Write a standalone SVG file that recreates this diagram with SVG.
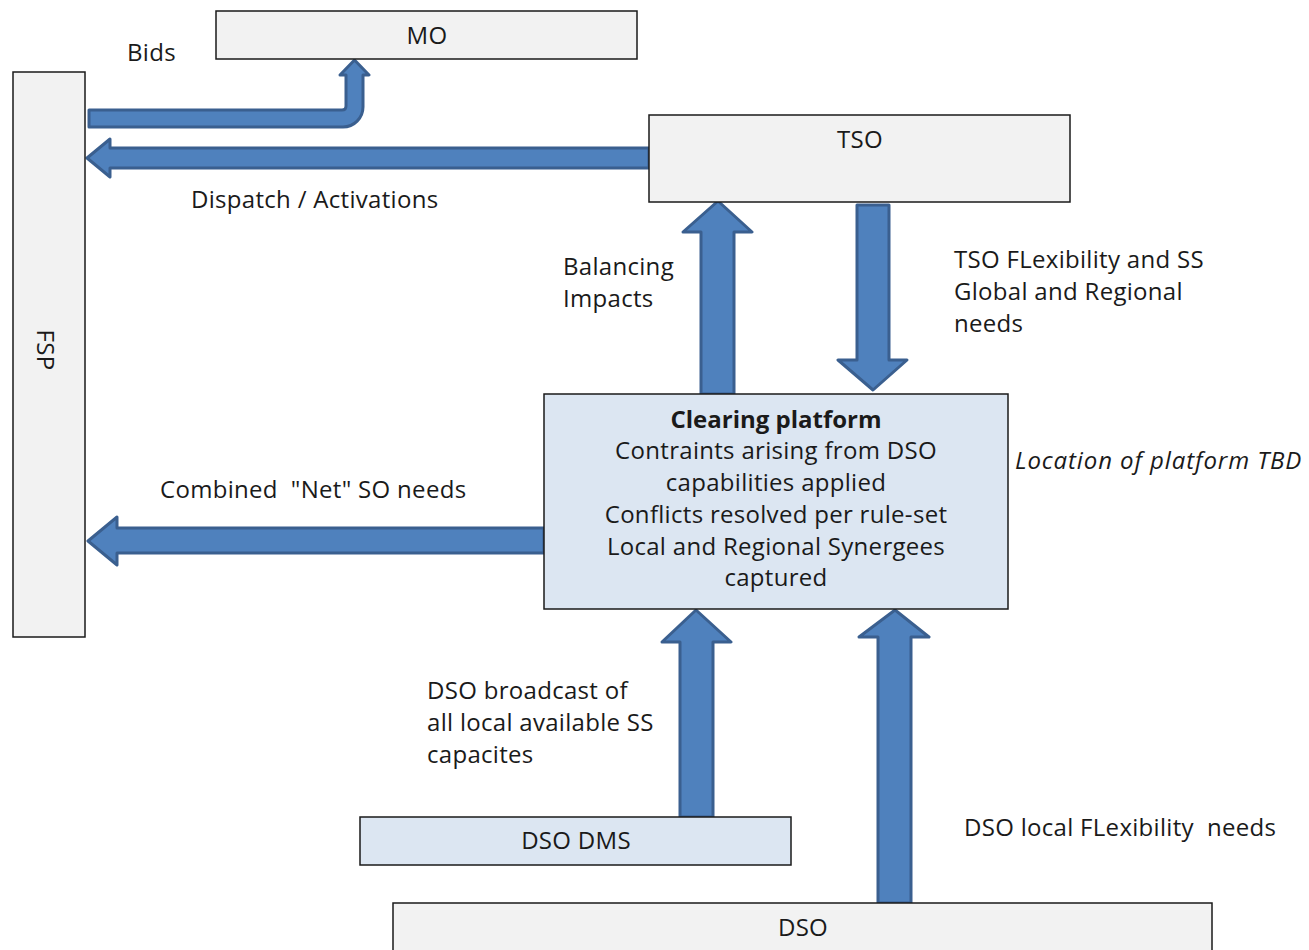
<svg xmlns="http://www.w3.org/2000/svg" width="1309" height="950" viewBox="0 0 1309 950">
  <style>
    text { font-family: "Open Sans", "Liberation Sans", sans-serif; font-size: 24px; letter-spacing: 0.3px; fill: #1a1a1a; }
    .c { text-anchor: middle; }
    .b { font-weight: bold; letter-spacing: 0; }
    .i { font-style: italic; letter-spacing: 0.9px; }
    .box { fill: #f2f2f2; stroke: #1a1a1a; stroke-width: 1.5; }
    .lbox { fill: #dce6f2; stroke: #1a1a1a; stroke-width: 1.5; }
    .arrow { fill: #4f81bd; stroke: #3a5f8f; stroke-width: 3; stroke-linejoin: round; }
  </style>
  <rect width="1309" height="950" fill="#ffffff"/>

  <!-- block arrows -->
  <g id="connectors">
    <path class="arrow" d="M89,110 H342 Q346,110 346,106 V75 H340 L354.5,60 L369,75 H363 V107 A20,20 0 0 1 343,127 H89 Z"/>
    <path class="arrow" d="M649,148 H110 V139 L87,158 L110,177 V168 H649 Z"/>
    <path class="arrow" d="M544,528 H117 V517 L88,541 L117,565 V553 H544 Z"/>
    <path class="arrow" d="M701,394 V232 H683 L718,201 L752,232 H734 V394 Z"/>
    <path class="arrow" d="M857,205 H889 V360 H907 L873,390 L838,360 H857 Z"/>
    <path class="arrow" d="M680,817 V642 H662 L696,610 L731,642 H713 V817 Z"/>
    <path class="arrow" d="M878,903 V637 H859 L895,610 L929,637 H911 V903 Z"/>
  </g>

  <g id="mo">
    <rect class="box" x="216" y="11" width="421" height="48"/>
    <text class="c" x="427" y="44">MO</text>
  </g>

  <g id="fsp">
    <rect class="box" x="13" y="72" width="72" height="565"/>
    <text class="c" transform="translate(37,350) rotate(90)">FSP</text>
  </g>

  <g id="tso">
    <rect class="box" x="649" y="115" width="421" height="87"/>
    <text class="c" x="860" y="148">TSO</text>
  </g>

  <g id="clearing">
    <rect class="lbox" x="544" y="394" width="464" height="215"/>
    <text class="c b" x="776" y="428">Clearing platform</text>
    <text class="c" x="776" y="459">Contraints arising from DSO</text>
    <text class="c" x="776" y="491">capabilities applied</text>
    <text class="c" x="776" y="523">Conflicts resolved per rule-set</text>
    <text class="c" x="776" y="555">Local and Regional Synergees</text>
    <text class="c" x="776" y="586">captured</text>
  </g>

  <g id="dso-dms">
    <rect class="lbox" x="360" y="817" width="431" height="48"/>
    <text class="c" x="576" y="849">DSO DMS</text>
  </g>

  <g id="dso">
    <rect class="box" x="393" y="903" width="819" height="60"/>
    <text class="c" x="803" y="936">DSO</text>
  </g>

  <g id="labels">
    <text x="127" y="61">Bids</text>
    <text x="191" y="208">Dispatch / Activations</text>
    <text x="563" y="275">Balancing</text>
    <text x="563" y="307">Impacts</text>
    <text x="954" y="268">TSO FLexibility and SS</text>
    <text x="954" y="300">Global and Regional</text>
    <text x="954" y="332">needs</text>
    <text class="i" x="1015" y="469">Location of platform TBD</text>
    <text x="160" y="498" xml:space="preserve">Combined  "Net" SO needs</text>
    <text x="427" y="699">DSO broadcast of</text>
    <text x="427" y="731">all local available SS</text>
    <text x="427" y="763">capacites</text>
    <text x="964" y="836" xml:space="preserve">DSO local FLexibility  needs</text>
  </g>
</svg>
